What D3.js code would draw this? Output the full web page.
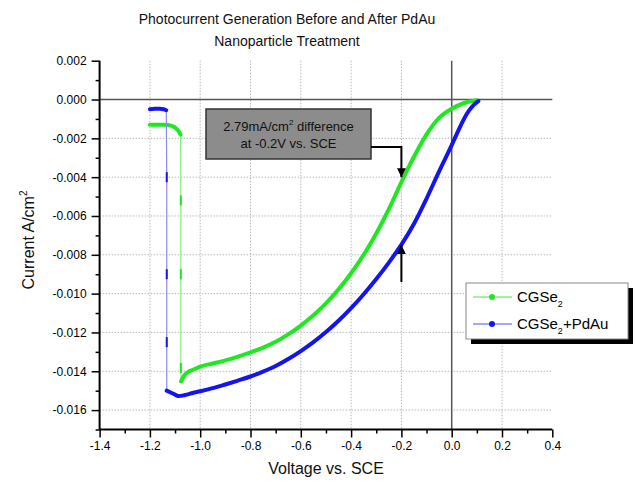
<!DOCTYPE html>
<html><head><meta charset="utf-8">
<script src="https://cdn.jsdelivr.net/npm/d3@7"></script>
<style>body{margin:0;background:#fff}svg{display:block;font-family:"Liberation Sans",Arial,sans-serif}</style>
</head><body><svg id="c" width="635" height="489"></svg>
<script>
// ---- data (voltage V vs. SCE, current A/cm2) ----
const greenTopV = [-1.20,-1.17,-1.14,-1.12,-1.105,-1.095,-1.085,-1.078];
const greenTopI = [-0.00130,-0.00130,-0.00130,-0.00133,-0.00140,-0.00150,-0.00165,-0.00180];
const greenJumpV = [-1.077,-1.077,-1.077];
const greenJumpI = [-0.0052,-0.0090,-0.01383];
const greenBotV = [-1.076,-1.065,-1.05,-1.02,-1.00,-0.95,-0.90,-0.85,-0.80,-0.75,-0.70,-0.65,-0.60,-0.55,-0.50,-0.45,-0.40,-0.35,-0.30,-0.25,-0.20,-0.15,-0.10,-0.05,0.00,0.05,0.10];
const greenBotI = [-0.01452,-0.01425,-0.01405,-0.01388,-0.01376,-0.01360,-0.01344,-0.01325,-0.01303,-0.01278,-0.01248,-0.01210,-0.01165,-0.01112,-0.01050,-0.00978,-0.00895,-0.00800,-0.00690,-0.00565,-0.00425,-0.00295,-0.00180,-0.00095,-0.00048,-0.00018,-0.00004];

const blueTopV = [-1.20,-1.18,-1.16,-1.145,-1.135];
const blueTopI = [-0.00050,-0.00048,-0.00048,-0.00050,-0.00055];
const blueJumpV = [-1.133,-1.133,-1.133];
const blueJumpI = [-0.0040,-0.0090,-0.0125];
const blueBotV = [-1.133,-1.12,-1.10,-1.085,-1.06,-1.03,-1.00,-0.95,-0.90,-0.85,-0.80,-0.75,-0.70,-0.65,-0.60,-0.55,-0.50,-0.45,-0.40,-0.35,-0.30,-0.25,-0.20,-0.15,-0.10,-0.05,0.00,0.03,0.05,0.07,0.09,0.106];
const blueBotI = [-0.01500,-0.01508,-0.01520,-0.01528,-0.01522,-0.01512,-0.01503,-0.01487,-0.01468,-0.01448,-0.01427,-0.01402,-0.01373,-0.01337,-0.01296,-0.01250,-0.01198,-0.01140,-0.01075,-0.01003,-0.00925,-0.00840,-0.00748,-0.00640,-0.00510,-0.00370,-0.00235,-0.00150,-0.00097,-0.00055,-0.00025,-0.00008];

const xTicks = [-1.4,-1.2,-1.0,-0.8,-0.6,-0.4,-0.2,0.0,0.2,0.4];
const yTicks = [0.002,0.000,-0.002,-0.004,-0.006,-0.008,-0.010,-0.012,-0.014,-0.016];

const svg = d3.select("#c");
const x = d3.scaleLinear().domain([-1.4,0.4]).range([99.6,552.3]);
const y = d3.scaleLinear().domain([-0.017,0.002]).range([429.5,60.7]);

// grid
const g = svg.append("g");
g.selectAll(".vg").data(xTicks.filter(t=>t>-1.39&&t<0.39&&Math.abs(t)>1e-9)).join("line")
  .attr("x1",d=>x(d)).attr("x2",d=>x(d)).attr("y1",y(0.002)).attr("y2",y(-0.017))
  .attr("stroke","#b8b8b8").attr("stroke-width",1).attr("stroke-dasharray","1.5,1.5");
g.selectAll(".hg").data(yTicks.filter(t=>t<-0.0001)).join("line")
  .attr("x1",x(-1.4)).attr("x2",x(0.4)).attr("y1",d=>y(d)).attr("y2",d=>y(d))
  .attr("stroke","#b8b8b8").attr("stroke-width",1).attr("stroke-dasharray","1.5,1.5");
// zero lines
g.append("line").attr("x1",x(-1.4)).attr("x2",x(0.4)).attr("y1",y(0)).attr("y2",y(0)).attr("stroke","#555").attr("stroke-width",1.5);
g.append("line").attr("x1",x(0)).attr("x2",x(0)).attr("y1",y(0.002)).attr("y2",y(-0.017)).attr("stroke","#555").attr("stroke-width",1.5);

// axes
const fmtY = d=>d3.format(".3f")(d).replace("−","-");
const fmtX = d=>d3.format(".1f")(d).replace("−","-");
const xAxis = svg.append("g").attr("transform",`translate(0,${y(-0.017)})`)
  .call(d3.axisBottom(x).tickValues(xTicks).tickFormat(fmtX).tickSize(8).tickPadding(4));
const yAxis = svg.append("g").attr("transform",`translate(${x(-1.4)},0)`)
  .call(d3.axisLeft(y).tickValues(yTicks).tickFormat(fmtY).tickSize(8).tickPadding(5));
svg.append("g").attr("transform",`translate(0,${y(-0.017)})`)
  .call(d3.axisBottom(x).tickValues(d3.range(-1.3,0.4,0.2)).tickFormat("").tickSize(4)).select(".domain").remove();
svg.append("g").attr("transform",`translate(${x(-1.4)},0)`)
  .call(d3.axisLeft(y).tickValues(d3.range(0.001,-0.0171,-0.002)).tickFormat("").tickSize(4)).select(".domain").remove();
svg.selectAll(".domain").attr("stroke","#000").attr("stroke-width",2);
svg.selectAll(".tick line").attr("stroke","#000").attr("stroke-width",1.5);
svg.selectAll(".tick text").attr("font-size",12).attr("fill","#000").attr("font-family","Liberation Sans, Arial, sans-serif");
xAxis.select(".domain").attr("d",`M${x(-1.4)},0H${x(0.4)}`);
yAxis.select(".domain").attr("d",`M0,${y(0.002)}V${y(-0.017)}`);

// series
function drawSeries(topV,topI,jumpV,jumpI,botV,botI,col,light){
  const top = topV.map((v,i)=>[v,topI[i]]);
  const jump = jumpV.map((v,i)=>[v,jumpI[i]]);
  const bot = botV.map((v,i)=>[v,botI[i]]);
  const all = top.concat(jump,bot);
  const line = d3.line().x(d=>x(d[0])).y(d=>y(d[1])).curve(d3.curveMonotoneX);
  const lineL = d3.line().x(d=>x(d[0])).y(d=>y(d[1]));
  svg.append("path").attr("d",lineL(all)).attr("fill","none").attr("stroke",light).attr("stroke-width",1.2);
  svg.append("path").attr("d",line(top)).attr("fill","none").attr("stroke",col).attr("stroke-width",4).attr("stroke-linecap","round");
  svg.append("path").attr("d",line(bot)).attr("fill","none").attr("stroke",col).attr("stroke-width",4).attr("stroke-linecap","round").attr("stroke-linejoin","round");
  svg.selectAll(null).data(jump).join("rect").attr("x",d=>x(d[0])-1).attr("y",d=>y(d[1])-5).attr("width",2).attr("height",10).attr("fill",col);
}
drawSeries(greenTopV,greenTopI,greenJumpV,greenJumpI,greenBotV,greenBotI,"#1ee81e","#7ff07f");
drawSeries(blueTopV,blueTopI,blueJumpV,blueJumpI,blueBotV,blueBotI,"#1414f0","#8a8af5");

// annotation box
svg.append("defs").append("marker").attr("id","ah").attr("viewBox","0 0 10 10").attr("refX",10).attr("refY",5)
  .attr("markerWidth",9).attr("markerHeight",9).attr("markerUnits","userSpaceOnUse").attr("orient","auto")
  .append("path").attr("d","M0,0L10,5L0,10Z").attr("fill","#000");
svg.append("rect").attr("x",206).attr("y",109).attr("width",165).attr("height",50).attr("fill","#8c8c8c").attr("stroke","#333").attr("stroke-width",1.5);
const at = svg.append("text").attr("text-anchor","middle").attr("font-size",13).attr("fill","#111");
const t1 = at.append("tspan").attr("x",288.5).attr("y",131);
t1.append("tspan").text("2.79mA/cm");
t1.append("tspan").attr("font-size",8).attr("dy",-6).text("2");
t1.append("tspan").attr("dy",6).text(" difference");
at.append("tspan").attr("x",288.5).attr("y",148).text("at -0.2V vs. SCE");
svg.append("path").attr("d",`M371,147H${x(-0.2)}V${y(-0.0040)}`).attr("fill","none").attr("stroke","#000").attr("stroke-width",2).attr("marker-end","url(#ah)");
svg.append("path").attr("d",`M${x(-0.2)},282V${y(-0.0075)}`).attr("fill","none").attr("stroke","#000").attr("stroke-width",2).attr("marker-end","url(#ah)");

// legend
svg.append("rect").attr("x",471).attr("y",288).attr("width",162).attr("height",56).attr("fill","#000");
svg.append("rect").attr("x",466).attr("y",283).attr("width",162).attr("height",56).attr("fill","#fff").attr("stroke","#888").attr("stroke-width",1);
const leg = [["CGSe","","#1ee81e","#7ff07f",297],["CGSe","+PdAu","#1414f0","#8a8af5",324]];
leg.forEach(([a,b,c,l,yy])=>{
  svg.append("line").attr("x1",473).attr("x2",512).attr("y1",yy).attr("y2",yy).attr("stroke",l).attr("stroke-width",1.5);
  svg.append("circle").attr("cx",492).attr("cy",yy).attr("r",3).attr("fill",c);
  const t = svg.append("text").attr("x",517).attr("y",yy+5).attr("font-size",15).attr("fill","#000");
  t.append("tspan").text(a);
  t.append("tspan").attr("font-size",9).attr("dy",5).text("2");
  if(b) t.append("tspan").attr("dy",-5).text(b);
});

// titles
const tt = svg.append("text").attr("text-anchor","middle").attr("font-size",14).attr("fill","#111");
tt.append("tspan").attr("x",287).attr("y",24).text("Photocurrent Generation Before and After PdAu");
tt.append("tspan").attr("x",287).attr("y",46).text("Nanoparticle Treatment");
svg.append("text").attr("x",326).attr("y",474).attr("text-anchor","middle").attr("font-size",16).attr("fill","#111").text("Voltage vs. SCE");
const yl = svg.append("text").attr("transform","translate(34,240) rotate(-90)").attr("text-anchor","middle").attr("font-size",16).attr("fill","#111");
yl.append("tspan").text("Current A/cm");
yl.append("tspan").attr("font-size",10).attr("dy",-7).text("2");
</script></body></html>
